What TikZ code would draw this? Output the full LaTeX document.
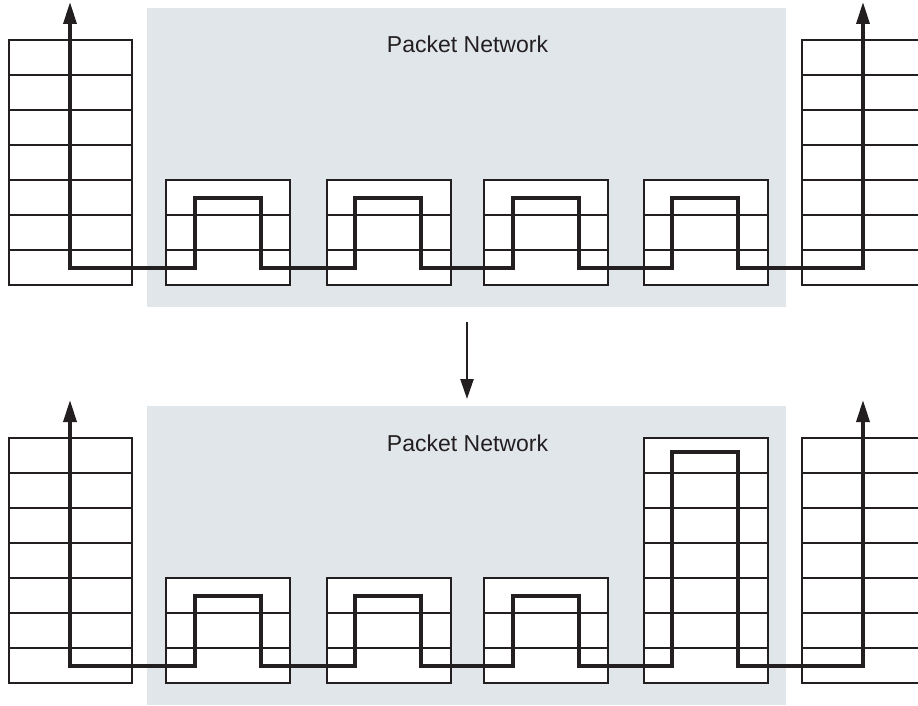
\documentclass[tikz,border=0pt]{standalone}
\usepackage{fontspec}
\setmainfont{Liberation Sans}
\usetikzlibrary{arrows.meta}
\definecolor{netgray}{HTML}{E1E6EA}
\definecolor{ink}{HTML}{231F20}
\tikzset{
  thinline/.style={draw=ink, line width=1.7pt},
  signal/.style={draw=ink, line width=3.4pt, line join=miter},
  panel/.style={fill=netgray, draw=none},
  cellbox/.style={thinline, fill=white},
  title/.style={font=\fontsize{23}{27}\selectfont, text=ink, inner sep=0pt, anchor=base}
}
\begin{document}
\begin{tikzpicture}[x=1pt,y=-1pt]
\useasboundingbox (0,0) rectangle (918,706);
\clip (0,0) rectangle (918,706);
\foreach \oy/\p in {0/1,398/2}{
  \begin{scope}[yshift=-\oy pt]
    % network cloud
    \fill[panel] (147,8) rectangle (786,307);
    \node[title] (ttl\p) at (467.5,53) {Packet Network};
    % left stack
    \draw[cellbox] (9,40) rectangle (132,285);
    \foreach \r in {75,110,145,180,215,250} \draw[thinline] (9,\r) -- (132,\r);
    % right stack
    \draw[cellbox] (802,40) rectangle (930,285);
    \foreach \r in {75,110,145,180,215,250} \draw[thinline] (802,\r) -- (930,\r);
    % switch buffers 1-3
    \foreach \bx in {166,327,484}{
      \draw[cellbox] (\bx,180) rectangle ++(124,105);
      \foreach \r in {215,250} \draw[thinline] (\bx,\r) -- ++(124,0);
    }
  \end{scope}
}
% switch buffer 4, top (short)
\draw[cellbox] (644,180) rectangle (768,285);
\foreach \r in {215,250} \draw[thinline] (644,\r) -- (768,\r);
% switch buffer 4, bottom (long)
\draw[cellbox] (644,438) rectangle (768,683);
\foreach \r in {473,508,543,578,613,648} \draw[thinline] (644,\r) -- (768,\r);

% signal paths
\coordinate (s1a) at (70,268); \coordinate (s1tip) at (70,2);
\coordinate (s1b) at (863,268); \coordinate (s1end) at (863,2);
\draw[signal,{Triangle[length=22pt,width=13pt]}-{Triangle[length=22pt,width=13pt]}]
  (s1tip) -- (s1a) -- (195,268) -- (195,198) -- (261,198) -- (261,268)
  -- (355,268) -- (355,198) -- (421,198) -- (421,268)
  -- (513,268) -- (513,198) -- (579,198) -- (579,268)
  -- (672,268) -- (672,198) -- (738,198) -- (738,268) -- (s1b) -- (s1end);

\coordinate (s2a) at (70,666); \coordinate (s2tip) at (70,400);
\coordinate (s2b) at (863,666); \coordinate (s2end) at (863,400);
\draw[signal,{Triangle[length=22pt,width=13pt]}-{Triangle[length=22pt,width=13pt]}]
  (s2tip) -- (s2a) -- (195,666) -- (195,596) -- (261,596) -- (261,666)
  -- (355,666) -- (355,596) -- (421,596) -- (421,666)
  -- (513,666) -- (513,596) -- (579,596) -- (579,666)
  -- (672,666) -- (672,452) -- (738,452) -- (738,666) -- (s2b) -- (s2end);

% transition arrow
\coordinate (dtop) at (467,322); \coordinate (dbot) at (467,399);
\draw[draw=ink, line width=2.4pt, -{Triangle[length=20pt,width=13pt]}] (dtop) -- (dbot);
\end{tikzpicture}
\end{document}
